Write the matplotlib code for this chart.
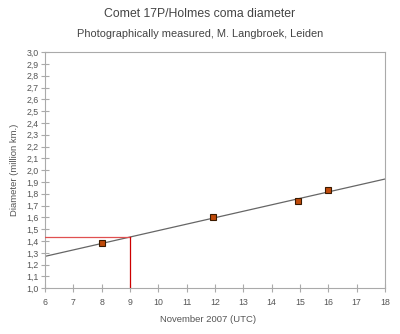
import matplotlib
matplotlib.use("Agg")
import matplotlib.pyplot as plt
import numpy as np

days = [8.0, 11.94, 14.92, 16.0]
diam = [1.38, 1.60, 1.74, 1.83]
trend_x = [6, 18]
trend_y = [1.27, 1.925]
mark_day = 9
mark_diam = 1.433
xticks = list(range(6, 19))
yticks = [round(1.0 + 0.1 * i, 1) for i in range(21)]

plt.rcParams['font.family'] = ['Liberation Sans', 'DejaVu Sans']
fig = plt.figure(figsize=(4.0, 3.34), dpi=100)
ax = fig.add_axes([0.1125, 0.137, 0.85, 0.707])

ax.plot(trend_x, trend_y, color='#666666', lw=0.9, zorder=2)
ax.plot([6, mark_day], [mark_diam, mark_diam], color='#e05050', lw=0.9, zorder=3)
ax.plot([mark_day, mark_day], [1.0, mark_diam], color='#cc0000', lw=0.9, zorder=3)
ax.plot(days, diam, 's', color='#c04a0a', mec='#3a1a00', mew=0.8, ms=4.2, zorder=4)

ax.set_xlim(6, 18)
ax.set_ylim(1.0, 3.0)
ax.set_xticks(xticks)
ax.set_xticklabels([str(t) for t in xticks])
ax.set_yticks(yticks)
ax.set_yticklabels([f"{t:.1f}".replace('.', ',') for t in yticks])
for s in ax.spines.values():
    s.set_color('#aaaaaa')
    s.set_linewidth(0.8)
ax.tick_params(axis='both', direction='inout', length=6, width=0.8, color='#aaaaaa',
               labelsize=6.3, labelcolor='#555555', pad=1.5)
ax.tick_params(axis='x', pad=4)

fig.text(0.5, 0.957, 'Comet 17P/Holmes coma diameter', ha='center', va='center',
         fontsize=8.8, color='#444444')
fig.text(0.5, 0.898, 'Photographically measured, M. Langbroek, Leiden', ha='center',
         va='center', fontsize=7.9, color='#444444')
ax.set_xlabel('November 2007 (UTC)', fontsize=6.8, color='#555555', labelpad=7)
ax.xaxis.set_label_coords(0.48, -0.113)
ax.set_ylabel('Diameter (million km.)', fontsize=6.8, color='#555555', labelpad=5)

fig.savefig('out.png', dpi=100, facecolor='white')
